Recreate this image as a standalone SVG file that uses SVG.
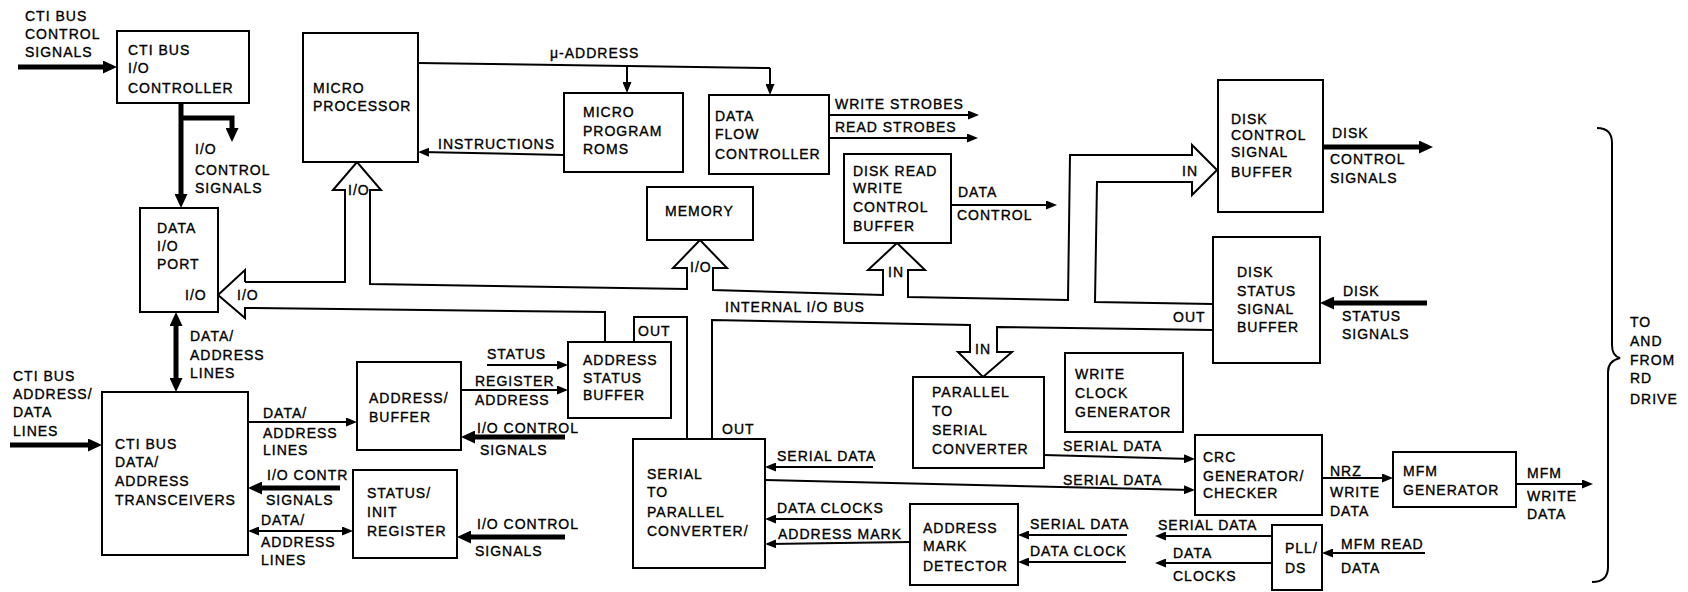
<svg xmlns="http://www.w3.org/2000/svg" width="1688" height="592" viewBox="0 0 1688 592">
<style>
.b{fill:#fff;stroke:#000;stroke-width:2}
.t{font-family:"Liberation Sans",Arial,sans-serif;font-size:14px;letter-spacing:1px;fill:#000;stroke:#000;stroke-width:0.35}
.c{fill:none;stroke:#000;stroke-width:2}
.a{fill:none;stroke:#000;stroke-width:2;marker-end:url(#a)}
.k{fill:none;stroke:#000;stroke-width:5;marker-end:url(#k)}
.bus{fill:none;stroke:#000;stroke-width:2;stroke-linejoin:miter}
</style>
<defs>
<marker id="a" markerUnits="userSpaceOnUse" markerWidth="11" markerHeight="9" refX="8" refY="4.5" orient="auto-start-reverse"><path d="M0,0 L11,4.5 L0,9 z" fill="#000"/></marker>
<marker id="k" markerUnits="userSpaceOnUse" markerWidth="14" markerHeight="13" refX="4" refY="6.5" orient="auto-start-reverse"><path d="M0,0 L14,6.5 L0,13 z" fill="#000"/></marker>
</defs>
<rect width="1688" height="592" fill="#fff"/>

<g id="connectors">
<path class="k" d="M18,67 L107,67"/>
<path class="k" d="M181,103 L181,198"/>
<path class="k" d="M181,118 L232,118 L232,132"/>
<path class="k" d="M176,322 L176,382" marker-start="url(#k)"/>
<path class="k" d="M10,445 L92,445"/>
<path class="k" d="M340,488 L258,488"/>
<path class="k" d="M565,437 L471,437"/>
<path class="k" d="M565,537 L467,537"/>
<path class="k" d="M1323,147 L1423,147"/>
<path class="k" d="M1427,303 L1330,303"/>

<path class="c" d="M418,63 L770,68"/>
<path class="a" d="M627,66 L627,90"/>
<path class="a" d="M770,68 L770,92"/>
<path class="a" d="M564,155 L421,152"/>
<path class="a" d="M829,115 L976,115"/>
<path class="a" d="M829,138 L975,138"/>
<path class="a" d="M951,205 L1054,205"/>
<path class="a" d="M487,365 L565,365"/>
<path class="a" d="M461,390 L565,390"/>
<path class="a" d="M248,422 L354,422"/>
<path class="a" d="M251,531 L350,531" marker-start="url(#a)"/>
<path class="a" d="M873,467 L768,467"/>
<path class="a" d="M765,480 L1192,490"/>
<path class="a" d="M872,519 L768,519"/>
<path class="a" d="M910,542 L768,544"/>
<path class="a" d="M1044,455 L1192,459"/>
<path class="a" d="M1127,535 L1021,535"/>
<path class="a" d="M1126,562 L1021,562"/>
<path class="a" d="M1272,536 L1158,536"/>
<path class="a" d="M1272,563 L1158,563"/>
<path class="a" d="M1322,478 L1390,478"/>
<path class="a" d="M1516,484 L1590,484"/>
<path class="a" d="M1425,553 L1325,553"/>

<path class="bus" d="M245,282 L345,282 L345,190 L333,190 L357,162 L381,190 L370,190 L370,284 L687,289 L687,268 L673,268 L700,240 L727,268 L713,268 L713,290 L883,295 L883,270 L868,270 L897,243 L925,270 L908,270 L908,297 L1068,300 L1070,155 L1192,155 L1192,145 L1217,170 L1192,195 L1192,182 L1097,182 L1095,302 L1213,304"/>
<path class="bus" d="M245,282 L245,270 L218,295 L245,318 L245,308 L605,312 L605,342"/>
<path class="bus" d="M634,342 L634,317 L687,317 L687,439"/>
<path class="bus" d="M712,439 L712,320 L970,325 L970,352 L958,352 L983,377 L1012,352 L997,352 L997,327 L1213,330"/>
<path class="c" d="M1597,128 Q1612,128 1612,143 L1612,345 Q1612,356 1620,358 Q1608,361 1608,372 L1608,567 Q1608,582 1592,582"/>

<text class="t" x="25" y="21">CTI BUS</text>
<text class="t" x="25" y="39">CONTROL</text>
<text class="t" x="25" y="57">SIGNALS</text>
<text class="t" x="195" y="154">I/O</text>
<text class="t" x="195" y="175">CONTROL</text>
<text class="t" x="195" y="193">SIGNALS</text>
<text class="t" x="550" y="58">μ-ADDRESS</text>
<text class="t" x="438" y="149">INSTRUCTIONS</text>
<text class="t" x="835" y="109">WRITE STROBES</text>
<text class="t" x="835" y="132">READ STROBES</text>
<text class="t" x="958" y="197">DATA</text>
<text class="t" x="957" y="220">CONTROL</text>
<text class="t" x="1182" y="176">IN</text>
<text class="t" x="1332" y="138">DISK</text>
<text class="t" x="1330" y="164">CONTROL</text>
<text class="t" x="1330" y="183">SIGNALS</text>
<text class="t" x="348" y="195">I/O</text>
<text class="t" x="690" y="272">I/O</text>
<text class="t" x="888" y="277">IN</text>
<text class="t" x="237" y="300">I/O</text>
<text class="t" x="190" y="341">DATA/</text>
<text class="t" x="190" y="360">ADDRESS</text>
<text class="t" x="190" y="378">LINES</text>
<text class="t" x="725" y="312">INTERNAL I/O BUS</text>
<text class="t" x="638" y="336">OUT</text>
<text class="t" x="1173" y="322">OUT</text>
<text class="t" x="975" y="354">IN</text>
<text class="t" x="1343" y="296">DISK</text>
<text class="t" x="1342" y="321">STATUS</text>
<text class="t" x="1342" y="339">SIGNALS</text>
<text class="t" x="1630" y="327">TO</text>
<text class="t" x="1630" y="346">AND</text>
<text class="t" x="1630" y="365">FROM</text>
<text class="t" x="1630" y="383">RD</text>
<text class="t" x="1630" y="404">DRIVE</text>
<text class="t" x="13" y="381">CTI BUS</text>
<text class="t" x="13" y="399">ADDRESS/</text>
<text class="t" x="13" y="417">DATA</text>
<text class="t" x="13" y="436">LINES</text>
<text class="t" x="487" y="359">STATUS</text>
<text class="t" x="475" y="386">REGISTER</text>
<text class="t" x="475" y="405">ADDRESS</text>
<text class="t" x="263" y="418">DATA/</text>
<text class="t" x="263" y="438">ADDRESS</text>
<text class="t" x="263" y="455">LINES</text>
<text class="t" x="267" y="480">I/O CONTR</text>
<text class="t" x="266" y="505">SIGNALS</text>
<text class="t" x="261" y="525">DATA/</text>
<text class="t" x="261" y="547">ADDRESS</text>
<text class="t" x="261" y="565">LINES</text>
<text class="t" x="477" y="433">I/O CONTROL</text>
<text class="t" x="480" y="455">SIGNALS</text>
<text class="t" x="477" y="529">I/O CONTROL</text>
<text class="t" x="475" y="556">SIGNALS</text>
<text class="t" x="722" y="434">OUT</text>
<text class="t" x="777" y="461">SERIAL DATA</text>
<text class="t" x="777" y="513">DATA CLOCKS</text>
<text class="t" x="778" y="539">ADDRESS MARK</text>
<text class="t" x="1063" y="451">SERIAL DATA</text>
<text class="t" x="1063" y="485">SERIAL DATA</text>
<text class="t" x="1030" y="529">SERIAL DATA</text>
<text class="t" x="1030" y="556">DATA CLOCK</text>
<text class="t" x="1158" y="530">SERIAL DATA</text>
<text class="t" x="1173" y="558">DATA</text>
<text class="t" x="1173" y="581">CLOCKS</text>
<text class="t" x="1330" y="476">NRZ</text>
<text class="t" x="1330" y="497">WRITE</text>
<text class="t" x="1330" y="516">DATA</text>
<text class="t" x="1527" y="478">MFM</text>
<text class="t" x="1527" y="501">WRITE</text>
<text class="t" x="1527" y="519">DATA</text>
<text class="t" x="1341" y="549">MFM READ</text>
<text class="t" x="1341" y="573">DATA</text>
</g>

<g id="cti-io-controller"><rect class="b" x="117" y="31" width="132" height="72"/>
<text class="t" x="128" y="55">CTI BUS</text><text class="t" x="128" y="73">I/O</text><text class="t" x="128" y="93">CONTROLLER</text></g>
<g id="microprocessor"><rect class="b" x="303" y="33" width="115" height="129"/>
<text class="t" x="313" y="93">MICRO</text><text class="t" x="313" y="111">PROCESSOR</text></g>
<g id="micro-program-roms"><rect class="b" x="564" y="93" width="119" height="79"/>
<text class="t" x="583" y="117">MICRO</text><text class="t" x="583" y="136">PROGRAM</text><text class="t" x="583" y="154">ROMS</text></g>
<g id="data-flow-controller"><rect class="b" x="709" y="95" width="120" height="79"/>
<text class="t" x="715" y="121">DATA</text><text class="t" x="715" y="139">FLOW</text><text class="t" x="715" y="159">CONTROLLER</text></g>
<g id="memory"><rect class="b" x="647" y="187" width="106" height="53"/>
<text class="t" x="665" y="216">MEMORY</text></g>
<g id="disk-rw-control-buffer"><rect class="b" x="844" y="154" width="107" height="89"/>
<text class="t" x="853" y="176">DISK READ</text><text class="t" x="853" y="193">WRITE</text><text class="t" x="853" y="212">CONTROL</text><text class="t" x="853" y="231">BUFFER</text></g>
<g id="disk-control-signal-buffer"><rect class="b" x="1218" y="80" width="105" height="132"/>
<text class="t" x="1231" y="124">DISK</text><text class="t" x="1231" y="140">CONTROL</text><text class="t" x="1231" y="157">SIGNAL</text><text class="t" x="1231" y="177">BUFFER</text></g>
<g id="disk-status-signal-buffer"><rect class="b" x="1213" y="237" width="107" height="126"/>
<text class="t" x="1237" y="277">DISK</text><text class="t" x="1237" y="296">STATUS</text><text class="t" x="1237" y="314">SIGNAL</text><text class="t" x="1237" y="332">BUFFER</text></g>
<g id="data-io-port"><rect class="b" x="140" y="208" width="78" height="104"/>
<text class="t" x="157" y="233">DATA</text><text class="t" x="157" y="251">I/O</text><text class="t" x="157" y="269">PORT</text><text class="t" x="185" y="300">I/O</text></g>
<g id="cti-transceivers"><rect class="b" x="102" y="392" width="146" height="163"/>
<text class="t" x="115" y="449">CTI BUS</text><text class="t" x="115" y="467">DATA/</text><text class="t" x="115" y="486">ADDRESS</text><text class="t" x="115" y="505">TRANSCEIVERS</text></g>
<g id="address-buffer"><rect class="b" x="357" y="362" width="104" height="88"/>
<text class="t" x="369" y="403">ADDRESS/</text><text class="t" x="369" y="422">BUFFER</text></g>
<g id="status-init-register"><rect class="b" x="353" y="470" width="104" height="88"/>
<text class="t" x="367" y="498">STATUS/</text><text class="t" x="367" y="517">INIT</text><text class="t" x="367" y="536">REGISTER</text></g>
<g id="address-status-buffer"><rect class="b" x="568" y="342" width="103" height="76"/>
<text class="t" x="583" y="365">ADDRESS</text><text class="t" x="583" y="383">STATUS</text><text class="t" x="583" y="400">BUFFER</text></g>
<g id="serial-to-parallel"><rect class="b" x="633" y="439" width="132" height="129"/>
<text class="t" x="647" y="479">SERIAL</text><text class="t" x="647" y="497">TO</text><text class="t" x="647" y="517">PARALLEL</text><text class="t" x="647" y="536">CONVERTER/</text></g>
<g id="parallel-to-serial"><rect class="b" x="913" y="377" width="131" height="91"/>
<text class="t" x="932" y="397">PARALLEL</text><text class="t" x="932" y="416">TO</text><text class="t" x="932" y="435">SERIAL</text><text class="t" x="932" y="454">CONVERTER</text></g>
<g id="write-clock-generator"><rect class="b" x="1065" y="353" width="118" height="79"/>
<text class="t" x="1075" y="379">WRITE</text><text class="t" x="1075" y="398">CLOCK</text><text class="t" x="1075" y="417">GENERATOR</text></g>
<g id="crc-generator-checker"><rect class="b" x="1195" y="435" width="127" height="80"/>
<text class="t" x="1203" y="462">CRC</text><text class="t" x="1203" y="481">GENERATOR/</text><text class="t" x="1203" y="498">CHECKER</text></g>
<g id="address-mark-detector"><rect class="b" x="910" y="504" width="108" height="81"/>
<text class="t" x="923" y="533">ADDRESS</text><text class="t" x="923" y="551">MARK</text><text class="t" x="923" y="571">DETECTOR</text></g>
<g id="mfm-generator"><rect class="b" x="1393" y="452" width="123" height="55"/>
<text class="t" x="1403" y="476">MFM</text><text class="t" x="1403" y="495">GENERATOR</text></g>
<g id="pll-ds"><rect class="b" x="1272" y="525" width="50" height="65"/>
<text class="t" x="1285" y="553">PLL/</text><text class="t" x="1285" y="573">DS</text></g>
</svg>
